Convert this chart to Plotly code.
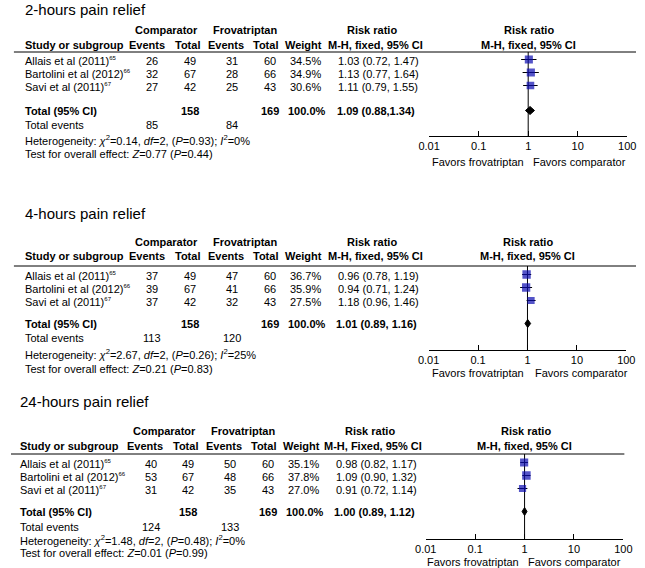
import plotly.graph_objects as go

W, H = 645, 568
FONT = "Liberation Sans"

# ---------------- data ----------------
titles = ["2-hours pain relief", "4-hours pain relief", "24-hours pain relief"]
studies = ["Allais et al (2011)", "Bartolini et al (2012)", "Savi et al (2011)"]
refs = ["65", "66", "67"]
comp_total = [49, 67, 42]
frov_total = [60, 66, 43]
sum_comp_total = 158
sum_frov_total = 169

comp_events_2h = [26, 32, 27]
frov_events_2h = [31, 28, 25]
weights_2h = [34.5, 34.9, 30.6]
rr_2h = [1.03, 1.13, 1.11]
lo_2h = [0.72, 0.77, 0.79]
hi_2h = [1.47, 1.64, 1.55]
total_2h = [1.09, 0.88, 1.34]
events_sum_2h = [85, 84]
het_2h = ["0.14", "2", "0.93", "0%"]
z_2h = ["0.77", "0.44"]

comp_events_4h = [37, 39, 37]
frov_events_4h = [47, 41, 32]
weights_4h = [36.7, 35.9, 27.5]
rr_4h = [0.96, 0.94, 1.18]
lo_4h = [0.78, 0.71, 0.96]
hi_4h = [1.19, 1.24, 1.46]
total_4h = [1.01, 0.89, 1.16]
events_sum_4h = [113, 120]
het_4h = ["2.67", "2", "0.26", "25%"]
z_4h = ["0.21", "0.83"]

comp_events_24h = [40, 53, 31]
frov_events_24h = [50, 48, 35]
weights_24h = [35.1, 37.8, 27.0]
rr_24h = [0.98, 1.09, 0.91]
lo_24h = [0.82, 0.90, 0.72]
hi_24h = [1.17, 1.32, 1.14]
total_24h = [1.00, 0.89, 1.12]
events_sum_24h = [124, 133]
het_24h = ["1.48", "2", "0.48", "0%"]
z_24h = ["0.01", "0.99"]

mh_headers = ["M-H, fixed, 95% CI", "M-H, fixed, 95% CI", "M-H, Fixed, 95% CI"]
total_seps = [",", ", ", ", "]
tick_vals = [0.01, 0.1, 1, 10, 100]
tick_text = ["0.01", "0.1", "1", "10", "100"]

panels_data = [
    dict(ce=comp_events_2h, fe=frov_events_2h, w=weights_2h, rr=rr_2h, lo=lo_2h, hi=hi_2h,
         tot=total_2h, ev=events_sum_2h, het=het_2h, z=z_2h),
    dict(ce=comp_events_4h, fe=frov_events_4h, w=weights_4h, rr=rr_4h, lo=lo_4h, hi=hi_4h,
         tot=total_4h, ev=events_sum_4h, het=het_4h, z=z_4h),
    dict(ce=comp_events_24h, fe=frov_events_24h, w=weights_24h, rr=rr_24h, lo=lo_24h, hi=hi_24h,
         tot=total_24h, ev=events_sum_24h, het=het_24h, z=z_24h),
]

# ---------------- layout geometry (pixels) ----------------
geom = [
    dict(dx=0, left=12, title=9, h1=30, h2=45, line=52, line_x=(3, 645), rows=[61, 74, 87], total=111,
         tev=125, het=140, test=154, axis=136, ax=(431.5, 636), fav=162, fav_x=(482, 587)),
    dict(dx=0, left=12, title=213, h1=242, h2=256, line=266, line_x=(3, 645), rows=[276, 289, 302], total=324,
         tev=338, het=354, test=369, axis=350, ax=(431, 635), fav=373, fav_x=(482, 589)),
    dict(dx=-2, left=7, title=402, h1=431, h2=446, line=454, line_x=(0, 633), rows=[464, 477, 490], total=512,
         tev=527, het=540, test=553, axis=539, ax=(428, 632), fav=562, fav_x=(477, 582)),
]

def px(x):
    return x / W

def py(y):
    return 1 - y / H

annotations = []
shapes = []

def txt(x, y, s, size=11, bold=False, anchor="center"):
    if bold:
        s = "<b>" + s + "</b>"
    annotations.append(dict(x=px(x), y=py(y), xref="paper", yref="paper", text=s, showarrow=False,
                            xanchor=anchor, yanchor="middle", font=dict(size=size, color="black", family=FONT)))

fig = go.Figure()
layout_axes = {}

for k, (d, g) in enumerate(zip(panels_data, geom)):
    dx = g["dx"]
    # title
    txt(g["left"], g["title"], titles[k], size=15, anchor="left")
    # headers
    txt(160 + dx, g["h1"], "Comparator", bold=True)
    txt(241 + dx, g["h1"], "Frovatriptan", bold=True)
    txt(g["left"], g["h2"], "Study or subgroup", bold=True, anchor="left")
    txt(140 + dx, g["h2"], "Events", bold=True)
    txt(182 + dx, g["h2"], "Total", bold=True)
    txt(222 + dx, g["h2"], "Events", bold=True)
    txt(263 + dx, g["h2"], "Total", bold=True)
    txt(302 + dx, g["h2"], "Weight", bold=True)
    txt(373 + dx, g["h1"], "Risk ratio", bold=True)
    txt(376 + dx, g["h2"], mh_headers[k], bold=True)
    axc = (g["ax"][0] + g["ax"][1]) / 2
    txt(axc + 1, g["h1"], "Risk ratio", bold=True)
    txt(axc, g["h2"], "M-H, fixed, 95% CI", bold=True)
    shapes.append(dict(type="line", xref="paper", yref="paper", x0=px(g["line_x"][0]), x1=px(g["line_x"][1]),
                       y0=py(g["line"]), y1=py(g["line"]), line=dict(color="black", width=1)))
    # study rows
    for i in range(3):
        y = g["rows"][i]
        txt(g["left"], y, studies[i] + "<sup><span style='font-size:6px'>" + refs[i] + "</span></sup>", anchor="left")
        txt(146 + dx, y, str(d["ce"][i]))
        txt(185 + dx, y, str(comp_total[i]))
        txt(228 + dx, y, str(d["fe"][i]))
        txt(267 + dx, y, str(frov_total[i]))
        txt(304 + dx, y, f"{d['w'][i]:.1f}%")
        txt(379 + dx, y, f"{d['rr'][i]:.2f} ({d['lo'][i]:.2f}, {d['hi'][i]:.2f})")
    # total row
    y = g["total"]
    txt(g["left"], y, "Total (95% CI)", bold=True, anchor="left")
    txt(185 + dx, y, str(sum_comp_total), bold=True)
    txt(267 + dx, y, str(sum_frov_total), bold=True)
    txt(305 + dx, y, "100.0%", bold=True)
    t = d["tot"]
    txt(377 + dx, y, f"{t[0]:.2f} ({t[1]:.2f}{total_seps[k]}{t[2]:.2f})", bold=True)
    txt(g["left"], g["tev"], "Total events", anchor="left")
    txt(146 + dx, g["tev"], str(d["ev"][0]))
    txt(228 + dx, g["tev"], str(d["ev"][1]))
    h = d["het"]
    txt(g["left"], g["het"],
        f"Heterogeneity: <i>χ</i><sup>2</sup>={h[0]}, <i>df</i>={h[1]}, (<i>P</i>={h[2]}); <i>I</i><sup>2</sup>={h[3]}",
        anchor="left")
    z = d["z"]
    txt(g["left"], g["test"], f"Test for overall effect: <i>Z</i>={z[0]} (<i>P</i>={z[1]})", anchor="left")
    txt(g["fav_x"][0], g["fav"], "Favors frovatriptan")
    txt(g["fav_x"][1], g["fav"], "Favors comparator")

    # forest subplot
    sfx = "" if k == 0 else str(k + 1)
    xa, ya = "x" + sfx, "y" + sfx
    pitch = 13.0
    row0 = g["rows"][0] - 1.5
    idx = list(range(3))
    tot_idx = (g["total"] - 0.5 - row0) / pitch
    y_bottom = (g["axis"] - row0) / pitch
    y_top = (g["line"] - row0) / pitch

    fig.add_trace(go.Scatter(
        x=d["rr"], y=idx, xaxis=xa, yaxis=ya, mode="markers",
        marker=dict(symbol="square", color="#0b0bb0", size=[1.38 * (w ** 0.5) for w in d["w"]],
                    line=dict(width=0)),
        error_x=dict(type="data", symmetric=False,
                     array=[hh - r for hh, r in zip(d["hi"], d["rr"])],
                     arrayminus=[r - ll for r, ll in zip(d["rr"], d["lo"])],
                     color="black", thickness=1, width=0),
        showlegend=False, hoverinfo="skip"))
    hd = 4.0 / pitch
    fig.add_trace(go.Scatter(
        x=[t[1], t[0], t[2], t[0], t[1]],
        y=[tot_idx, tot_idx - hd, tot_idx, tot_idx + hd, tot_idx],
        xaxis=xa, yaxis=ya, mode="lines", fill="toself", fillcolor="black",
        line=dict(color="black", width=1), showlegend=False, hoverinfo="skip"))
    shapes.append(dict(type="line", xref=xa, yref=ya + " domain", x0=1, x1=1, y0=0, y1=1,
                       layer="below", line=dict(color="black", width=1)))

    layout_axes["xaxis" + sfx] = dict(
        type="log", range=[-2, 2], domain=[px(g["ax"][0]), px(g["ax"][1])], anchor=ya,
        tickvals=tick_vals, ticktext=tick_text, ticks="inside", ticklen=5, tickcolor="black",
        showline=True, linecolor="black", linewidth=1, showgrid=False, zeroline=False,
        tickfont=dict(size=11, color="black", family=FONT), fixedrange=True)
    layout_axes["yaxis" + sfx] = dict(
        range=[y_bottom, y_top], domain=[py(g["axis"]), py(g["line"])], anchor=xa,
        visible=False, showgrid=False, zeroline=False, fixedrange=True)

fig.update_layout(
    width=W, height=H, margin=dict(l=0, r=0, t=0, b=0),
    paper_bgcolor="white", plot_bgcolor="white",
    annotations=annotations, shapes=shapes, showlegend=False,
    font=dict(family=FONT, color="black"),
    **layout_axes)

fig.write_html("out.html", config={"displayModeBar": False},
               post_script="document.body.style.margin='0px';document.body.style.overflow='hidden';")
